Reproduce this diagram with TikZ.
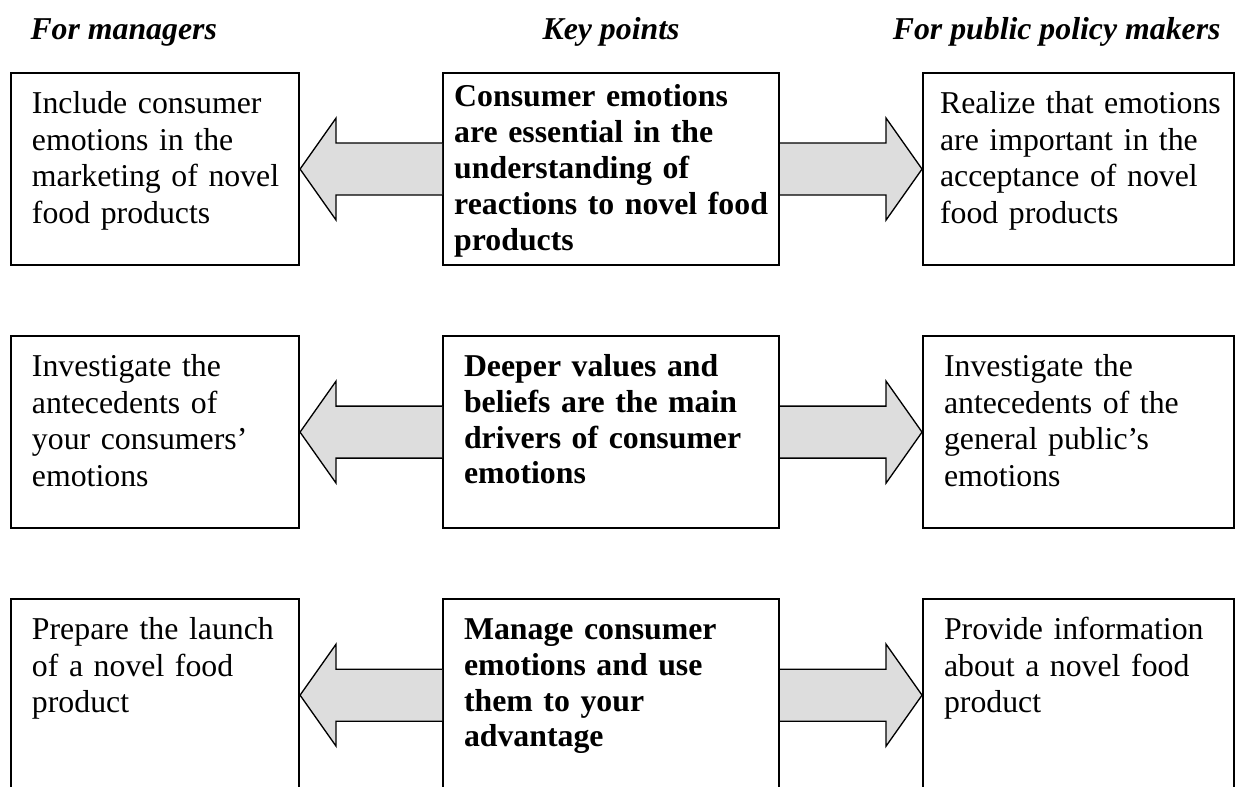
\documentclass[tikz,border=0pt]{standalone}
\usepackage{fontspec}
\setmainfont{Liberation Serif}
\usepackage{tikz}
\usetikzlibrary{calc,positioning}
\definecolor{arrowgray}{HTML}{DDDDDD}

\begin{document}
\begin{tikzpicture}[x=0.3775pt, y=-0.3775pt, node distance=26pt and 53.6pt,
	pad/.style={execute at begin node={\leftskip=#1}},
	cell/.style={draw, line width=0.8pt, align=left, font=\fontsize{12}{13.8}\selectfont, inner xsep=0pt, inner ysep=7.3pt, text height=8pt, text depth=49.9pt, pad=7.9pt},
	mgrcell/.style={cell, text width=108.7pt},
	keycell/.style={cell, font=\bfseries\fontsize{12}{13.5}\selectfont, text width=126.8pt},
	pubcell/.style={cell, text width=117.4pt},
	head/.style={font=\bfseries\itshape\fontsize{12}{13.8}\selectfont, inner sep=0pt},
	fat/.style={draw, fill=arrowgray, line width=0.5pt, line join=miter}]
	\useasboundingbox (0,0) rectangle (1237,787);
	\coordinate (headline) at (0,40);

	\node (mgr1) [mgrcell, anchor=north west] at (10,72) {Include consumer\\ emotions in the\\ marketing of novel\\ food products};
	\node (key1) [keycell, right=of mgr1, pad=4.2pt, inner ysep=4.8pt, text depth=54.9pt] {Consumer emotions\\ are essential in the\\ understanding of\\ reactions to novel food\\ products};
	\node (pub1) [pubcell, right=of key1, pad=6.4pt] {Realize that emotions\\ are important in the\\ acceptance of novel\\ food products};

	\node (mgr2) [mgrcell, below=of mgr1] {Investigate the\\ antecedents of\\ your consumers'\\ emotions};
	\node (key2) [keycell, right=of mgr2] {Deeper values and\\ beliefs are the main\\ drivers of consumer\\ emotions};
	\node (pub2) [pubcell, right=of key2] {Investigate the\\ antecedents of the\\ general public's\\ emotions};

	%bottom row runs off the page
	\node (mgr3) [mgrcell, below=of mgr2] {Prepare the launch\\ of a novel food\\ product};
	\node (key3) [keycell, right=of mgr3] {Manage consumer\\ emotions and use\\ them to your\\ advantage};
	\node (pub3) [pubcell, right=of key3] {Provide information\\ about a novel food\\ product};

	\node (mgrhead) [head, anchor=base west] at (30,40) {For managers};
	\node (keyhead) [head, anchor=base] at (key1.north |- headline) {Key points};
	\node (pubhead) [head, anchor=base east] at (1221,40) {For public policy makers};

	\foreach \r in {1,2,3} {
		\draw[fat] ($(key\r.west)+(0,-26)$) -- ($(mgr\r.east)+(36,-26)$) -- ($(mgr\r.east)+(36,-51)$) -- (mgr\r.east) -- ($(mgr\r.east)+(36,51)$) -- ($(mgr\r.east)+(36,26)$) -- ($(key\r.west)+(0,26)$);
		\draw[fat] ($(key\r.east)+(0,-26)$) -- ($(pub\r.west)+(-36,-26)$) -- ($(pub\r.west)+(-36,-51)$) -- (pub\r.west) -- ($(pub\r.west)+(-36,51)$) -- ($(pub\r.west)+(-36,26)$) -- ($(key\r.east)+(0,26)$);
	}
\end{tikzpicture}
\end{document}
